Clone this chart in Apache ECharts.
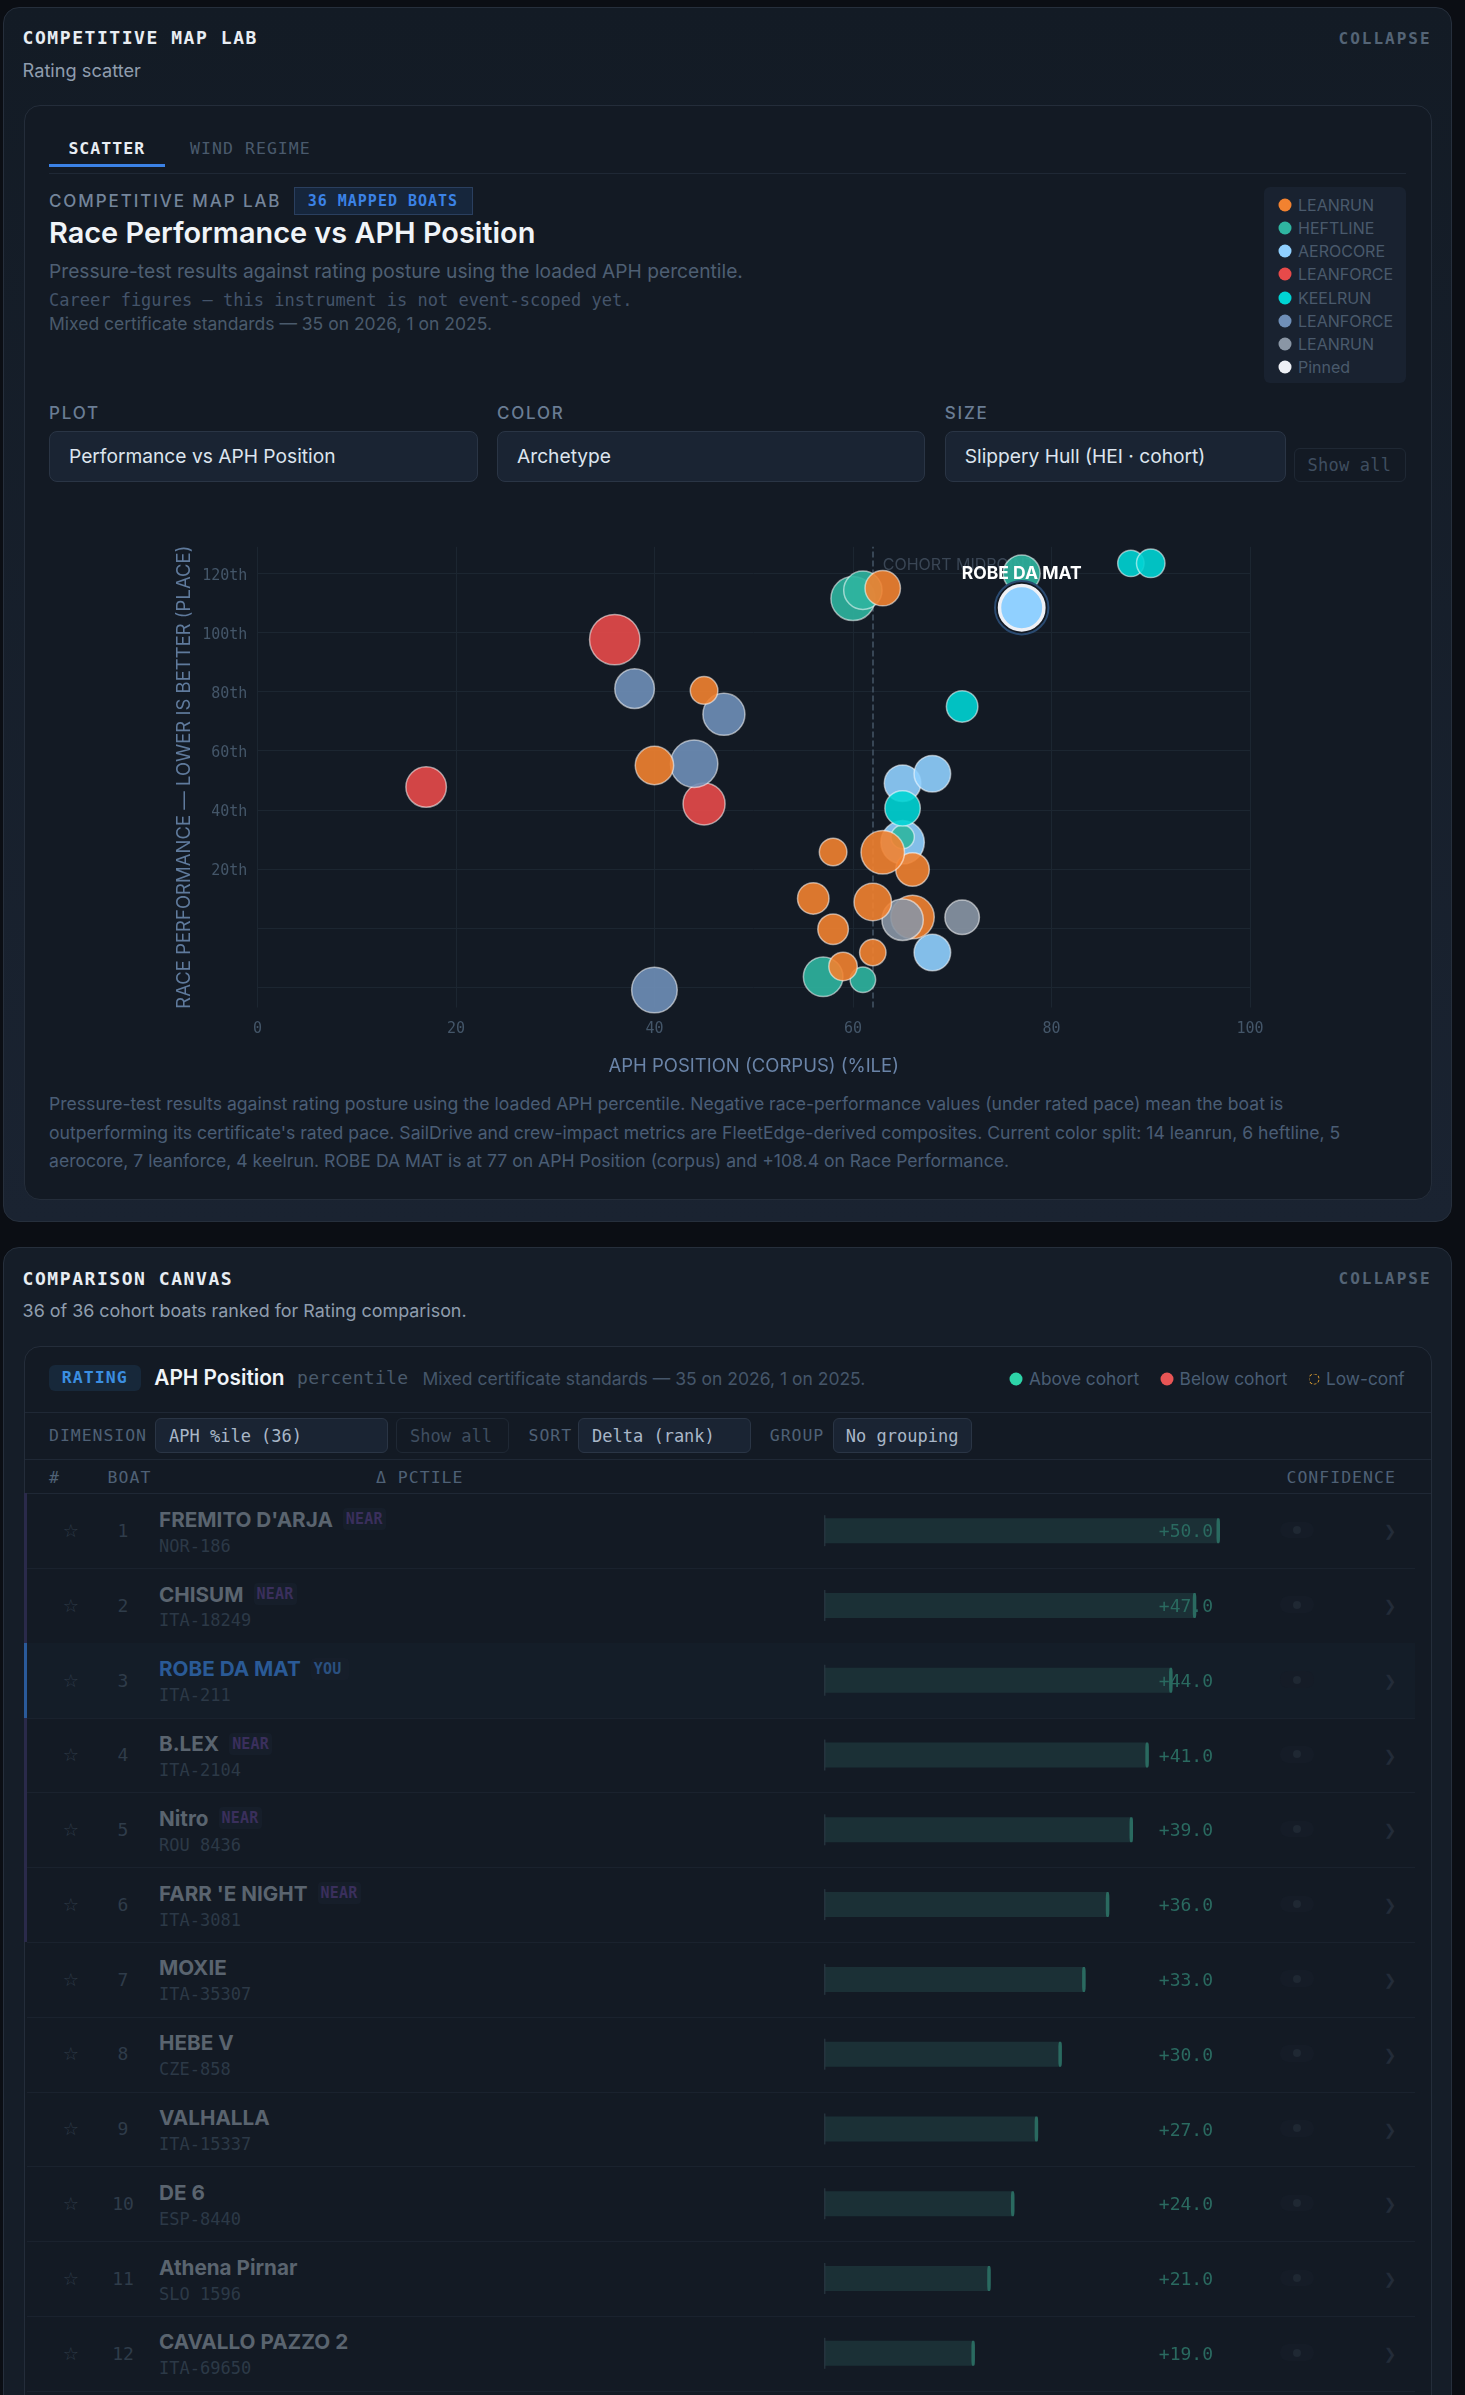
<!DOCTYPE html>
<html>
<head>
<meta charset="utf-8">
<title>Competitive Map Lab</title>
<script src="https://cdn.jsdelivr.net/npm/echarts@6/dist/echarts.min.js"></script>
<style>
html,body{margin:0;padding:0;background:#0b0e14;}
body{position:relative;width:1465px;height:2395px;overflow:hidden;font-family:Inter,sans-serif;}
.a{position:absolute;white-space:nowrap;line-height:1;transform:translateY(-50%);}
.box{position:absolute;box-sizing:border-box;}
.m{font-family:"DejaVu Sans Mono",monospace;}
.panel{background:linear-gradient(#131b25,#1a2331);border:1px solid #262f3c;border-radius:16px;}
.inner{background:#131a24;border:1px solid #242d3a;border-radius:16px;}
.sel{background:#1a2433;border:1px solid #2a3545;border-radius:8px;}
.btn{border:1px solid #1f2834;border-radius:6px;}
.rule{position:absolute;height:1px;background:#1f2835;}
.dot{position:absolute;border-radius:50%;transform:translate(-50%,-50%);}
#scatter{position:absolute;left:49px;top:520px;width:1360px;height:570px;}
#bars{position:absolute;left:400px;top:1480px;width:900px;height:915px;}
</style>
</head>
<body>
<div id="page"></div>
<div id="scatter"></div>
<div id="bars"></div>
<script>
// scatter: Race Performance vs APH Position, listed in draw order
var aphPosition = [36,17,45, 38,47,40,44, 65,68,65,68, 60,61,77,65,57,61, 88,90,71,65,
    66,63,63,58,56,66, 65,71, 62,58,62,59,45,40, 77];
var racePerformance = [97.6,47.7,42, 81,72.3,-21,55.6, 49,52.2,29,-8.3, 111.5,114.3,120,30.8,-16.5,-17.5, 123.4,123.4,75,40.5,
    19.8,25.6,115,25.7,10,3.7, 2.8,3.6, 8.8,-0.4,-8.3,-13,80.4,55, 108.4];
var slipperyHull = [93,60,65, 57,65,77,83, 47,47,70,47, 72,53,48,3,57,10, 13,20,30,43,
    37,70,43,17,30,70, 63,40, 50,27,13,20,17,53, 73];
var archetype = [3,3,3, 5,5,5,5, 2,2,2,2, 1,1,1,1,1,1, 4,4,4,4,
    0,0,0,0,0,0, 6,6, 0,0,0,0,0,0, 2];
var archetypeNames = ['LEANRUN','HEFTLINE','AEROCORE','LEANFORCE','KEELRUN','LEANFORCE','LEANRUN','Pinned'];
var archetypeColors = ['#f28230','#2fb5a0','#90d0ff','#e84a4a','#00d4d4','#6f8fb8','#8a96a5','#eef0f5'];
var cohortMidpoint = 62;
var pinnedName = 'ROBE DA MAT';
var yTicks = [-20,0,20,40,60,80,100,120];
var yLabels = [20,40,60,80,100,120];

// comparison canvas
var boatNames = ["FREMITO D'ARJA",'CHISUM','ROBE DA MAT','B.LEX','Nitro',"FARR 'E NIGHT",'MOXIE','HEBE V','VALHALLA','DE 6','Athena Pirnar','CAVALLO PAZZO 2'];
var sailNumbers = ['NOR-186','ITA-18249','ITA-211','ITA-2104','ROU 8436','ITA-3081','ITA-35307','CZE-858','ITA-15337','ESP-8440','SLO 1596','ITA-69650'];
var boatTags = ['NEAR','NEAR','YOU','NEAR','NEAR','NEAR','','','','','',''];
var deltaPctile = [50,47,44,41,39,36,33,30,27,24,21,19];

var page = document.getElementById('page');
function add(html){ page.insertAdjacentHTML('beforeend', html); }
function box(cls,x,y,w,h,extra){ add('<div class="box '+cls+'" style="left:'+x+'px;top:'+y+'px;width:'+(w-x)+'px;height:'+(h-y)+'px;'+(extra||'')+'"></div>'); }
function text(str,x,y,size,color,extra,cls){ add('<div class="a '+(cls||'')+'" style="left:'+x+'px;top:'+y+'px;font-size:'+size+'px;color:'+color+';'+(extra||'')+'">'+str+'</div>'); }
function rule(x,y,x2,color){ add('<div class="rule" style="left:'+x+'px;top:'+y+'px;width:'+(x2-x)+'px;'+(color?'background:'+color:'')+'"></div>'); }
function dot(x,y,d,color,extra){ add('<div class="dot" style="left:'+x+'px;top:'+y+'px;width:'+d+'px;height:'+d+'px;background:'+color+';'+(extra||'')+'"></div>'); }

// ---- panel 1
box('panel',2.5,7,1452,1222);
text('COMPETITIVE MAP LAB',22.6,38,18,'#e8edf3','font-weight:700;letter-spacing:1.55px','m');
text('Rating scatter',22.6,69.7,18.2,'#8f9dae');
text('COLLAPSE',1338.5,38.5,16,'#546476','font-weight:700;letter-spacing:2px','m');
box('inner',23.6,105,1432,1200);
text('SCATTER',68.4,149,16.5,'#e8edf3','font-weight:700;letter-spacing:1.05px','m');
text('WIND REGIME',190,149,16.5,'#4a5a6d','letter-spacing:1.05px','m');
rule(49,173,1406);
box('',49,164,165,166.8,'background:#3b82e6');
text('COMPETITIVE MAP LAB',49,200.5,17,'#74859b','font-weight:500;letter-spacing:1.9px');
box('',294,187,473,214.7,'background:#16263c;border:1px solid #2a3f5f');
text('36 MAPPED BOATS',307.7,201,15,'#3b82e6','font-weight:700;letter-spacing:1px','m');
text('Race Performance vs APH Position',49,233,28.9,'#f0f4f8','font-weight:600');
text('Pressure-test results against rating posture using the loaded APH percentile.',49,271.7,19.2,'#4e5f73');
text('Career figures \u2014 this instrument is not event-scoped yet.',49,300,17,'#44546a','','m');
text('Mixed certificate standards \u2014 35 on 2026, 1 on 2025.',49,324,17.5,'#4a5a6c');

box('',1264.4,187,1405.6,383,'background:#192230;border-radius:6px');
archetypeNames.forEach(function(n,i){
    var y = 204.7 + i*23.2;
    dot(1284.6,y,13,archetypeColors[i]);
    text(n,1298,y,16,'#4a5a6c');
});

text('PLOT',49,413.4,17,'#6a7d94','font-weight:500;letter-spacing:1.8px');
text('COLOR',497,413.4,17,'#6a7d94','font-weight:500;letter-spacing:1.8px');
text('SIZE',944.7,413.4,17,'#6a7d94','font-weight:500;letter-spacing:1.8px');
box('sel',49,431,477.6,481.7);
box('sel',497,431,924.6,481.7);
box('sel',944.7,431,1286.5,481.7);
text('Performance vs APH Position',69,457.2,19.2,'#dde5ee');
text('Archetype',517,457.2,19.2,'#dde5ee');
text('Slippery Hull (HEI \u00b7 cohort)',964.7,457.2,19.2,'#dde5ee');
box('btn',1293.5,448.3,1405.6,481.7);
text('Show all',1307.6,465,17,'#3f4e60','letter-spacing:0.2px','m');

text('Pressure-test results against rating posture using the loaded APH percentile. Negative race-performance values (under rated pace) mean the boat is',49,1104,17.6,'#4a5d75');
text("outperforming its certificate's rated pace. SailDrive and crew-impact metrics are FleetEdge-derived composites. Current color split: 14 leanrun, 6 heftline, 5",49,1132.7,17.6,'#4a5d75');
text('aerocore, 7 leanforce, 4 keelrun. ROBE DA MAT is at 77 on APH Position (corpus) and +108.4 on Race Performance.',49,1161,17.6,'#4a5d75');

// ---- panel 2
box('panel',2.5,1247.3,1452,2480,'background:#151d28');
text('COMPARISON CANVAS',22.6,1279,18,'#e8edf3','font-weight:700;letter-spacing:1.55px','m');
text('36 of 36 cohort boats ranked for Rating comparison.',22.6,1310.7,17.9,'#8f9dae');
text('COLLAPSE',1338.5,1278.5,16,'#546476','font-weight:700;letter-spacing:2px','m');
box('inner',23.6,1345.7,1432,2480);
box('',49,1365,140.6,1390.7,'background:#17283a;border-radius:6px');
text('RATING',61.8,1378,16.5,'#3b8ee0','font-weight:700;letter-spacing:1.05px','m');
text('APH Position',154.3,1378,20.8,'#f0f4f8','font-weight:600');
text('percentile',297,1378,18,'#4a5a6c','letter-spacing:0.3px','m');
text('Mixed certificate standards \u2014 35 on 2026, 1 on 2025.',422.4,1379,17.5,'#45566a');
dot(1016,1379,13,'#2dd4a8');
text('Above cohort',1029,1379,17.3,'#4a5e75');
dot(1166.5,1379,13,'#e85555');
text('Below cohort',1179.6,1379,17.3,'#4a5e75');
add('<div class="dot" style="left:1313.7px;top:1379px;width:9px;height:9px;border:1.5px dashed #e0a030"></div>');
text('Low-conf',1326,1379,17.3,'#4a5e75');
rule(24.6,1411.7,1431);
text('DIMENSION',49,1435.7,16.5,'#4f6176','font-weight:500;letter-spacing:0.95px','m');
box('sel',154.8,1418.3,388.4,1452.7,'border-radius:6px');
text('APH %ile (36)',169,1435.7,17,'#a9b7c8','','m');
box('btn',396.4,1418.3,508.7,1452.7);
text('Show all',410,1435.7,17,'#3f4e60','','m');
text('SORT',528.5,1435.7,16.5,'#4f6176','font-weight:500;letter-spacing:0.95px','m');
box('sel',578,1418.3,750.6,1452.7,'border-radius:6px');
text('Delta (rank)',592,1435.7,17,'#a9b7c8','','m');
text('GROUP',769.8,1435.7,16.5,'#4f6176','font-weight:500;letter-spacing:0.95px','m');
box('sel',832.7,1418.3,972.4,1452.7,'border-radius:6px');
text('No grouping',845.8,1435.7,17,'#a9b7c8','','m');
rule(24.6,1459.3,1431);
['#','BOAT','\u0394 PCTILE','CONFIDENCE'].forEach(function(h,i){
    text(h,[49,107.6,376,1286.5][i],1478,16.5,'#4f6176','font-weight:500;letter-spacing:1px','m');
});
rule(24.6,1493.3,1431);

var rowTop = 1493.3, rowH = 74.78;
boatNames.forEach(function(name,i){
    var t = rowTop + i*rowH, tag = boatTags[i], you = tag === 'YOU';
    if (you) box('',27.4,t,1415,t+rowH,'background:#141d28');
    if (tag) box('',23.6,t,27.4,t+rowH,'background:'+(you?'#2a5a9a':'#2a2a4a'));
    rule(27.4,t+rowH,1415,'#1a222e');
    text('\u2606',70.8,t+37.7,18,'#2f3b48','transform:translate(-50%,-50%);font-family:&quot;DejaVu Sans&quot;');
    text(String(i+1),123,t+37.7,18,'#2f3c4a','transform:translate(-50%,-50%)','m');
    text(name,159,t+26.5,20.7,you?'#2a5a96':'#5a646f','font-weight:700');
    text(sailNumbers[i],159,t+52.4,17,'#2c3947','','m');
    box('',1279.5,t+28.4,1314,t+45,'background:#151c27;border-radius:8px');
    dot(1296.8,t+36.7,8,'#1f2833');
    text('\u276f',1390,t+38,15,'#232c39','transform:translate(-50%,-50%);font-family:&quot;DejaVu Sans&quot;');
});
// NEAR / YOU tags sit right after the name, so measure the name first
var cv = document.createElement('canvas').getContext('2d');
cv.font = '700 20.7px Inter';
boatNames.forEach(function(name,i){
    if (!boatTags[i]) return;
    var t = rowTop + i*rowH, you = boatTags[i] === 'YOU';
    var x = 159 + cv.measureText(name).width + 10;
    box('',x,t+15,x+(you?38:43),t+37,'background:#161e2a;border-radius:4px');
    text(boatTags[i],x+3,t+26,15,you?'#2a5080':'#3a2f5c','font-weight:700;letter-spacing:0.2px','m');
});

// ---- scatter chart
var scatterChart = echarts.init(document.getElementById('scatter'));
var monoFont = '"DejaVu Sans Mono", monospace';
function hullToSize(v){ return 22.5 + 0.3*v; }
var last = aphPosition.length - 1;
var cohortData = aphPosition.slice(0,last).map(function(x,i){
    return {
        value:[x,racePerformance[i],slipperyHull[i]],
        itemStyle:{color:archetypeColors[archetype[i]]}
    };
});
var pinnedPoint = [aphPosition[last],racePerformance[last],slipperyHull[last]];
scatterChart.setOption({
    animation:false,
    grid:{left:208.4,top:26.8,width:992.6,height:460.7},
    xAxis:{
        type:'value',min:0,max:100,interval:20,
        name:'APH POSITION (CORPUS) (%ILE)',nameLocation:'middle',nameGap:49,
        nameTextStyle:{color:'#6a84a8',fontFamily:'Inter',fontSize:18.5},
        axisLine:{show:false},axisTick:{show:false},
        axisLabel:{color:'#445669',fontFamily:monoFont,fontSize:15,margin:14},
        splitLine:{lineStyle:{color:'#1c2631'}}
    },
    yAxis:{
        type:'value',min:-26.9,max:129,
        name:'RACE PERFORMANCE \u2014 LOWER IS BETTER (PLACE)',nameLocation:'middle',nameGap:63,nameMoveOverlap:false,
        nameTextStyle:{color:'#5f7a9c',fontFamily:'Inter',fontSize:18.5},
        axisLine:{show:false},
        axisTick:{show:false,customValues:yTicks},
        axisLabel:{color:'#445669',fontFamily:monoFont,fontSize:15,margin:10,verticalAlign:'top',lineHeight:5,customValues:yLabels,
            formatter:function(v){ return v+'th'; }},
        splitLine:{lineStyle:{color:'#1c2631'}}
    },
    series:[
        {
            name:'cohort',type:'scatter',z:3,
            symbolSize:function(d){ return hullToSize(d[2]); },
            itemStyle:{opacity:0.9,borderColor:'rgba(255,255,255,0.6)',borderWidth:1.5},
            data:cohortData,
            markLine:{
                z:1,silent:true,symbol:'none',
                lineStyle:{color:'#465566',type:'dashed',width:1.5},
                label:{show:true,formatter:'COHORT MIDPOINT',position:'end',rotate:0,align:'left',verticalAlign:'top',
                    distance:0,offset:[10,10],color:'#3a4655',fontFamily:'Inter',fontSize:16},
                data:[{xAxis:cohortMidpoint}]
            }
        },
        {
            name:'pinned halo',type:'scatter',z:4,
            symbolSize:function(d){ return hullToSize(d[2])+9; },
            itemStyle:{opacity:1,color:'#131a24',borderColor:'#2a4a70',borderWidth:2},
            data:[pinnedPoint]
        },
        {
            name:pinnedName,type:'scatter',z:5,
            symbolSize:function(d){ return hullToSize(d[2]); },
            itemStyle:{opacity:1,color:archetypeColors[2],borderColor:'#eef0f5',borderWidth:3.5},
            label:{show:true,position:'top',distance:1,formatter:pinnedName,color:'#ffffff',fontFamily:'Inter',fontWeight:700,fontSize:17.5},
            data:[pinnedPoint]
        }
    ]
});

// ---- delta bars, one band per table row
var barsChart = echarts.init(document.getElementById('bars'));
var barLabels = deltaPctile.map(function(v){ return (v>=0?'+':'')+v.toFixed(1); });
barsChart.setOption({
    animation:false,
    grid:{left:29.4,top:13.3,width:790.6,height:897.4},
    xAxis:{type:'value',min:-50,max:50,show:false},
    yAxis:[
        {type:'category',inverse:true,data:boatNames,show:false},
        {type:'category',inverse:true,data:barLabels,position:'right',z:5,
            axisLine:{show:false},axisTick:{show:false},
            axisLabel:{inside:true,margin:7,verticalAlign:'top',lineHeight:4,color:'#2a6a60',fontFamily:monoFont,fontSize:18}}
    ],
    series:[
        {
            type:'bar',barWidth:25,data:deltaPctile,
            itemStyle:{color:'#1b3036',borderRadius:[0,3,3,0]}
        },
        {
            type:'pictorialBar',symbol:'roundRect',symbolSize:[3.5,25],symbolPosition:'end',z:6,
            itemStyle:{color:'#2a6a60'},data:deltaPctile
        },
        {
            type:'scatter',symbol:'rect',symbolSize:[1.5,31],z:7,
            itemStyle:{color:'#2a3a44'},
            data:boatNames.map(function(n){ return [0,n]; })
        }
    ]
});
</script>
</body>
</html>
